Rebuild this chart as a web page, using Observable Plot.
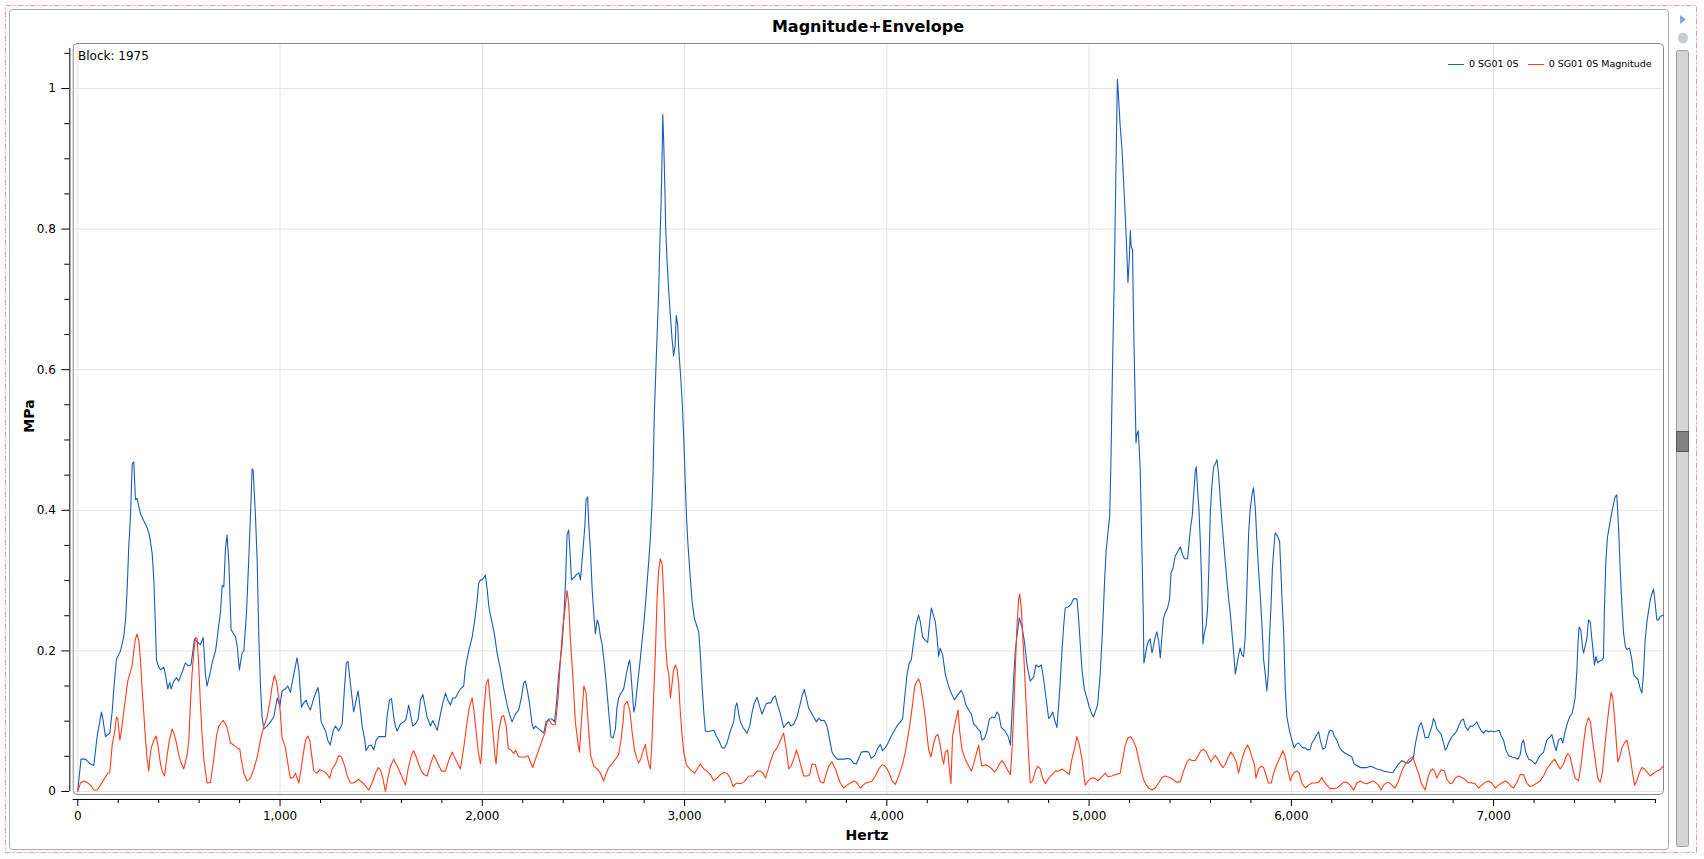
<!DOCTYPE html>
<html><head><meta charset="utf-8">
<script src="https://cdn.jsdelivr.net/npm/d3@7"></script>
<script src="https://cdn.jsdelivr.net/npm/@observablehq/plot@0.6"></script>
<style>
body{margin:0;background:#fff;}
#wrap{position:relative;width:1704px;height:859px;overflow:hidden;font-family:"DejaVu Sans",sans-serif;color:#000;}
#wrap > *{position:absolute;}
#deco{left:0;top:0;}
#chart{left:0;top:0;}
.lbl{white-space:nowrap;}
</style></head>
<body>
<div id="wrap">
<svg id="deco" width="1704" height="859">
  <rect x="5.5" y="5.5" width="1691" height="847" fill="none" stroke="#f29a9a" stroke-width="1" stroke-dasharray="6,2,2,2"/>
  <rect x="9.5" y="9.5" width="1659" height="840" rx="3" fill="#fff" stroke="#a8a8a8"/>
  <rect x="1676.5" y="50.5" width="12" height="796" rx="2" fill="#d4d4d4" stroke="#a0a0a0"/>
  <rect x="1676.5" y="431.5" width="12" height="20" fill="#828282" stroke="#5a5a5a"/>
  <path d="M1680,15 L1686,19.5 L1680,24 Z" fill="#7fa6e6"/>
  <ellipse cx="1683" cy="38" rx="5" ry="5.5" fill="#c5ccd4"/>
</svg>
<div id="chart"></div>
<div class="lbl" id="title" style="left:73px;width:1590px;top:17px;text-align:center;font-weight:bold;font-size:16px;">Magnitude+Envelope</div>
<div class="lbl" style="left:78px;top:49px;font-size:12px;">Block: 1975</div>
<div class="lbl" style="left:29px;top:416px;font-weight:bold;font-size:14px;transform:translate(-50%,-50%) rotate(-90deg);">MPa</div>
<div class="lbl" style="left:867px;top:835px;font-weight:bold;font-size:14px;transform:translate(-50%,-50%);">Hertz</div>
<div class="lbl" id="legend" style="left:1448px;top:58px;font-size:9.5px;line-height:12px;"></div>
</div>
<script>
// ---- data ----
const seriesNames = ["0 SG01 0S", "0 SG01 0S Magnitude"];
const seriesColors = ["#1a5db8", "#ff3c1e"];

const blueHz = [0,16,38,63,79,96,117,124,137,158,170,178,191,211,227,236,244,252,260,269,277,285,293,310,326,343,354,368,376,384,389,400,409,425,433,445,455,461,475,488,499,516,532,544,560,577,587,606,620,631,639,653,664,681,689,697,705,714,722,730,738,747,758,780,788,799,812,821,834,845,854,862,867,878,887,895,903,911,920,936,953,969,986,999,1010,1027,1038,1051,1068,1084,1093,1106,1117,1129,1137,1150,1167,1187,1192,1203,1213,1225,1236,1248,1262,
1274,1290,1307,1320,1328,1336,1348,1356,1364,1373,1386,1393,1406,1419,1425,1439,1452,1463,1475,1488,1505,1521,1529,1541,1551,1562,1570,1579,1595,1612,1623,1636,1645,1656,1669,1683,1694,1706,1716,1727,1744,1755,1768,1777,1793,1805,1818,1829,1842,1854,1867,1880,1892,1908,1917,1933,1950,1963,1974,1982,1991,1999,2007,2015,2024,2032,2040,2048,2062,2073,2090,2106,2123,2134,2147,2164,2180,2193,2205,2213,2225,2233,2246,2254,2263,2279,2292,2304,2315,2329,2345,2357,2365,2378,2394,2403,2411,2419,2427,2436,2441,2452,2464,2477,2485,2497,2507,2513,2521,2526,2535,2543,2551,2559,2568,2576,
2584,2592,2604,2613,2625,2636,2646,2658,2666,2674,2686,2699,2712,2724,2729,2735,2742,2749,2757,2765,2778,2790,2798,2806,2814,2823,2831,2839,2844,2847,2851,2856,2861,2867,2872,2877,2884,2889,2892,2897,2902,2907,2913,2922,2930,2938,2946,2953,2959,2966,2971,2979,2988,2996,3004,3009,3016,3029,3037,3048,3062,3070,3078,3086,3095,3103,3114,3128,3144,3157,3169,3185,3197,3210,3226,3243,3251,3259,3268,3276,3289,3309,3322,3334,3345,3358,3371,3383,3391,3404,3416,3427,3437,3449,3457,3474,3490,3503,3515,3526,3540,3556,3573,3581,3592,3602,3614,3625,3638,3652,3663,3675,3691,3704,3718,3729,3737,3754,3770,3787,3803,3820,3836,3849,3861,3874,
3894,3910,3923,3940,3956,3968,3979,3992,4006,4022,4034,4050,4067,4078,4088,4100,4111,4121,4133,4144,4157,4166,4177,4190,4202,4212,4220,4232,4240,4248,4256,4264,4276,4289,4302,4314,4325,4335,4347,4358,4368,4380,4391,4405,4418,4429,4441,4454,4462,4470,4484,4495,4507,4520,4533,4545,4553,4566,4582,4599,4611,4619,4627,4635,4643,4655,4668,4680,4693,4709,4726,4737,4751,4764,4775,4787,4800,4808,4820,4830,4841,4849,4858,4866,4874,4882,4899,4912,4924,4940,4948,4957,4965,4976,4989,5001,5014,5022,5034,5042,5055,5067,5077,5084,5093,5102,5108,5113,5118,5125,5130,5135,5140,5146,5154,5163,5171,5179,5187,5192,5199,
5204,5208,5215,5218,5222,5227,5232,5237,5243,5248,5253,5258,5263,5268,5271,5278,5286,5294,5302,5311,5319,5327,5335,5344,5352,5360,5368,5377,5388,5398,5405,5415,5426,5438,5451,5461,5471,5487,5497,5503,5510,5517,5525,5530,5536,5543,5550,5556,5563,5569,5579,5586,5592,5599,5607,5616,5624,5632,5640,5649,5657,5665,5673,5681,5690,5698,5706,5714,5723,5731,5739,5747,5756,5764,5772,5780,5789,5797,5807,5813,5822,5830,5838,5846,5855,5863,5871,5879,5886,5892,5899,5906,5912,5920,5932,5942,5948,5955,5962,5970,5978,5991,6003,6014,6024,6036,6047,6057,6069,6080,6093,6102,6113,6126,6135,6143,6156,6168,6176,6184,6192,6204,6212,6225,6239,6250,6267,6283,6299,6311,6324,6341,6357,6374,6390,6407,6423,6440,6456,6473,6489,6502,
6513,6530,6546,6560,6576,6593,6604,6612,6621,6632,6642,6654,6662,6678,6687,6695,6703,6711,6719,6731,6741,6752,6761,6769,6777,6794,6810,6818,6827,6840,6851,6860,6873,6884,6896,6909,6917,6925,6939,6950,6962,6975,6988,7000,7016,7028,7038,7049,7061,7074,7090,7107,7120,7131,7140,7148,7159,7173,7189,7206,7219,7230,7247,7263,7280,7288,7301,7309,7321,7333,7342,7354,7367,7379,7387,7395,7403,7412,7417,7423,7431,7440,7445,7453,7461,7469,7478,7486,7494,7499,7506,7515,7522,7535,7543,7548,7555,7563,7571,7581,7588,7595,7601,7609,7618,7626,7634,7642,7651,7659,7672,7684,7692,7700,7713,7725,7733,7741,7749,7758,7766,7774,7782,7791,7799,7807,7815,7823,7840];

const blueMPa = [0.002,0.046,0.046,0.039,0.037,0.079,0.113,0.103,0.078,0.083,0.113,0.146,0.188,0.200,0.220,0.244,0.288,0.348,0.388,0.466,0.469,0.415,0.417,0.395,0.385,0.375,0.365,0.338,0.301,0.234,0.187,0.177,0.173,0.177,0.167,0.146,0.155,0.146,0.157,0.162,0.157,0.170,0.183,0.179,0.180,0.217,0.214,0.209,0.219,0.167,0.150,0.167,0.183,0.200,0.217,0.237,0.254,0.293,0.291,0.345,0.365,0.325,0.230,0.220,0.207,0.173,0.197,0.200,0.254,0.328,0.395,0.459,0.457,0.395,0.328,0.220,0.153,0.106,0.089,0.093,0.099,0.106,0.133,0.121,0.143,0.146,0.150,0.141,0.167,0.190,0.173,0.120,0.126,0.130,0.123,0.116,0.133,0.148,0.140,0.099,0.093,0.086,0.073,0.066,0.086,
0.093,0.086,0.096,0.153,0.183,0.185,0.153,0.133,0.113,0.126,0.143,0.126,0.093,0.073,0.058,0.065,0.066,0.059,0.073,0.078,0.078,0.078,0.106,0.130,0.132,0.106,0.093,0.086,0.096,0.099,0.103,0.123,0.110,0.093,0.096,0.103,0.130,0.138,0.123,0.106,0.093,0.101,0.093,0.087,0.110,0.126,0.140,0.130,0.123,0.133,0.133,0.140,0.146,0.150,0.177,0.200,0.220,0.244,0.271,0.296,0.301,0.301,0.304,0.308,0.288,0.264,0.251,0.241,0.220,0.197,0.173,0.146,0.123,0.110,0.099,0.110,0.116,0.133,0.155,0.157,0.140,0.126,0.096,0.089,0.093,0.089,0.086,0.083,0.099,0.103,0.103,0.099,0.120,0.167,0.207,0.247,0.294,0.365,0.372,0.328,0.301,0.304,0.308,0.311,0.301,0.341,0.378,0.415,0.419,0.382,0.341,0.288,0.254,0.224,0.244,0.237,
0.220,0.210,0.180,0.153,0.113,0.078,0.076,0.089,0.120,0.133,0.140,0.146,0.167,0.183,0.187,0.167,0.140,0.113,0.123,0.146,0.180,0.214,0.237,0.264,0.294,0.328,0.362,0.409,0.449,0.489,0.543,0.583,0.624,0.671,0.711,0.771,0.839,0.906,0.963,0.923,0.866,0.798,0.758,0.711,0.677,0.644,0.620,0.634,0.677,0.664,0.630,0.597,0.556,0.503,0.435,0.395,0.355,0.301,0.271,0.247,0.234,0.227,0.194,0.153,0.113,0.086,0.085,0.086,0.087,0.079,0.073,0.062,0.062,0.069,0.086,0.099,0.120,0.126,0.110,0.099,0.091,0.083,0.093,0.113,0.126,0.134,0.121,0.110,0.116,0.125,0.126,0.126,0.133,0.136,0.126,0.110,0.091,0.096,0.099,0.093,0.096,0.106,0.126,0.136,0.145,0.133,0.118,0.113,0.106,0.099,0.104,0.101,0.101,0.093,0.073,0.056,0.052,0.046,0.046,0.046,0.047,0.046,0.040,0.039,0.047,0.056,
0.057,0.056,0.047,0.051,0.062,0.067,0.058,0.062,0.069,0.079,0.085,0.093,0.099,0.103,0.133,0.167,0.183,0.187,0.214,0.237,0.251,0.241,0.220,0.215,0.212,0.241,0.261,0.249,0.241,0.220,0.192,0.204,0.194,0.167,0.153,0.143,0.136,0.130,0.136,0.140,0.144,0.136,0.123,0.116,0.110,0.096,0.093,0.087,0.086,0.073,0.076,0.086,0.103,0.106,0.105,0.113,0.110,0.091,0.087,0.079,0.066,0.113,0.160,0.200,0.220,0.247,0.234,0.214,0.180,0.157,0.163,0.180,0.177,0.180,0.160,0.133,0.104,0.106,0.113,0.101,0.091,0.120,0.160,0.200,0.234,0.261,0.263,0.267,0.274,0.274,0.247,0.207,0.173,0.146,0.133,0.120,0.110,0.106,0.116,0.123,0.167,0.234,0.301,0.341,0.368,0.392,0.469,0.556,0.637,0.738,0.832,0.926,1.013,0.986,0.946,0.913,0.866,0.818,0.765,0.724,0.758,
0.798,0.775,0.771,0.704,0.637,0.570,0.496,0.509,0.513,0.489,0.456,0.388,0.321,0.251,0.183,0.194,0.207,0.214,0.217,0.197,0.207,0.220,0.227,0.214,0.190,0.220,0.247,0.254,0.261,0.274,0.311,0.318,0.335,0.341,0.348,0.338,0.331,0.331,0.362,0.378,0.392,0.422,0.456,0.462,0.432,0.402,0.355,0.301,0.210,0.224,0.237,0.261,0.315,0.395,0.435,0.462,0.466,0.472,0.452,0.415,0.382,0.355,0.328,0.301,0.274,0.254,0.227,0.200,0.167,0.180,0.194,0.204,0.194,0.192,0.220,0.288,0.368,0.402,0.425,0.432,0.402,0.355,0.315,0.281,0.234,0.187,0.167,0.143,0.167,0.220,0.261,0.315,0.341,0.368,0.363,0.356,0.315,0.267,0.227,0.146,0.106,0.086,0.073,0.062,0.067,0.069,0.065,0.062,0.062,0.059,0.060,0.069,0.074,0.081,0.085,0.073,0.060,0.062,0.073,0.083,0.087,0.086,0.079,0.073,0.062,0.058,0.054,0.052,0.049,0.039,0.037,0.034,0.034,0.034,0.036,0.034,0.032,0.031,0.029,0.028,0.027,0.027,
0.032,0.039,0.044,0.042,0.040,0.044,0.049,0.066,0.079,0.093,0.098,0.086,0.076,0.077,0.086,0.093,0.104,0.098,0.089,0.085,0.081,0.069,0.059,0.062,0.069,0.078,0.083,0.086,0.093,0.101,0.103,0.093,0.087,0.093,0.093,0.096,0.099,0.094,0.086,0.083,0.087,0.085,0.086,0.085,0.086,0.087,0.079,0.073,0.059,0.051,0.049,0.048,0.046,0.052,0.069,0.073,0.056,0.046,0.044,0.039,0.046,0.051,0.056,0.073,0.078,0.081,0.066,0.058,0.073,0.076,0.069,0.086,0.099,0.108,0.110,0.120,0.133,0.173,0.210,0.234,0.230,0.204,0.197,0.207,0.217,0.244,0.241,0.217,0.194,0.180,0.192,0.183,0.185,0.187,0.190,0.261,0.328,0.362,0.375,0.392,0.402,0.412,0.419,0.422,0.375,0.315,0.267,0.227,0.207,0.202,0.204,0.187,0.167,0.163,0.160,0.146,0.140,0.167,0.214,0.241,0.257,0.271,0.281,0.288,0.267,0.244,0.244,0.249,0.251];

const redHz = [0,13,30,46,63,79,96,112,129,148,158,170,183,191,198,208,214,227,239,247,260,269,277,285,293,302,310,318,326,335,343,351,356,363,376,387,396,409,417,429,442,453,467,475,488,499,513,524,541,549,557,565,574,582,590,598,606,615,623,639,656,672,686,697,705,719,730,738,755,771,788,801,808,821,837,854,870,887,903,920,936,949,961,972,982,994,1002,1010,1027,1035,1043,1051,1065,1076,1093,1104,1114,1126,1137,1147,1159,1167,1183,1196,1213,1229,1246,1257,
1274,1290,1304,1320,1332,1348,1364,1389,1414,1439,1455,1472,1485,1496,1508,1521,1533,1546,1562,1579,1595,1620,1633,1650,1661,1673,1694,1711,1727,1744,1760,1777,1798,1818,1834,1851,1867,1892,1908,1925,1936,1950,1958,1969,1979,1991,1996,2007,2019,2029,2040,2052,2062,2068,2081,2095,2106,2118,2128,2144,2156,2164,2180,2197,2213,2226,2238,2249,2263,2279,2296,2309,2320,2332,2345,2361,2375,2386,2398,2408,2419,2427,2436,2447,2460,2474,2480,2490,2502,2513,2523,2535,2551,2568,
2584,2600,2613,2625,2641,2658,2674,2686,2696,2702,2716,2729,2740,2752,2765,2773,2785,2795,2806,2814,2823,2831,2839,2847,2856,2864,2872,2880,2889,2897,2905,2913,2922,2930,2938,2946,2955,2963,2971,2979,2988,2996,3009,3020,3037,3050,3062,3078,3095,3111,3128,3144,3161,3177,3194,3210,3226,3240,3256,3276,3296,3317,3339,3358,3375,3388,3400,3411,3424,3441,3457,3474,3490,3503,3515,3526,3540,3553,3564,3576,3589,3606,3619,3630,3647,3658,3671,3688,3701,3713,3729,3746,3757,3770,3787,3803,3820,3840,3853,3869,
3894,3910,3927,3943,3960,3976,3989,4001,4012,4026,4042,4055,4067,4078,4091,4105,4116,4128,4138,4149,4157,4166,4177,4190,4199,4207,4218,4232,4243,4253,4264,4273,4281,4289,4301,4309,4317,4325,4339,4352,4360,4372,4388,4405,4418,4429,4441,4454,4462,4470,4487,4503,4520,4533,4545,4556,4569,4582,4594,4611,4619,4627,4635,4643,4652,4657,4665,4676,4685,4693,4701,4709,4721,4734,4746,4759,4770,4784,4800,4817,4833,4849,4866,4882,4902,4915,4929,4940,4952,4965,4973,4981,4995,5011,5027,5044,5060,5080,5093,5113,5130,5154,5166,5179,5192,
5204,5217,5233,5245,5256,5269,5283,5294,5311,5327,5344,5360,5377,5398,5415,5434,5451,5467,5484,5497,5508,5525,5541,5553,5566,5579,5591,5602,5612,5624,5635,5649,5662,5673,5685,5701,5714,5728,5739,5747,5759,5772,5784,5794,5805,5817,5825,5838,5851,5863,5876,5887,5901,5912,5929,5945,5958,5970,5981,5995,6003,6014,6028,6039,6052,6069,6085,6102,6118,6135,6151,6159,6176,6192,6209,6225,6242,6258,6275,6291,6308,6324,6341,6357,6374,6390,6403,6415,6431,6443,6456,6473,6486,6497,
6513,6530,6546,6563,6583,6601,6612,6629,6642,6662,6675,6687,6698,6708,6719,6731,6741,6757,6769,6785,6797,6810,6827,6843,6860,6873,6893,6909,6925,6942,6958,6975,6991,7008,7024,7041,7057,7074,7087,7099,7115,7131,7148,7164,7181,7197,7214,7230,7247,7263,7280,7301,7313,7329,7346,7357,7367,7379,7390,7403,7420,7433,7445,7456,7469,7479,7489,7502,7515,7527,7539,7548,7560,7571,7581,7589,7598,7606,7614,7623,7634,7647,7659,7667,7677,7687,7697,7708,7720,7733,7746,7758,7774,7791,7807,7823,7840];

const redMPa = [0,0.012,0.015,0.013,0.009,0.002,0.002,0.009,0.017,0.026,0.027,0.066,0.086,0.106,0.103,0.073,0.083,0.113,0.140,0.157,0.170,0.180,0.200,0.217,0.224,0.214,0.187,0.146,0.113,0.073,0.046,0.029,0.046,0.062,0.073,0.079,0.066,0.039,0.029,0.022,0.052,0.073,0.089,0.083,0.069,0.052,0.039,0.032,0.052,0.073,0.126,0.167,0.200,0.219,0.217,0.180,0.126,0.079,0.046,0.012,0.013,0.046,0.079,0.093,0.096,0.101,0.096,0.091,0.069,0.066,0.062,0.060,0.046,0.026,0.015,0.019,0.032,0.049,0.073,0.093,0.106,0.126,0.150,0.165,0.157,0.133,0.110,0.076,0.062,0.046,0.032,0.019,0.020,0.026,0.012,0.032,0.052,0.073,0.079,0.073,0.046,0.029,0.026,0.031,0.029,0.026,0.019,0.032,
0.039,0.051,0.049,0.036,0.022,0.012,0.012,0.017,0.011,0.002,0.012,0.026,0.034,0.031,0.019,0,0.019,0.036,0.046,0.036,0.026,0.009,0.032,0.052,0.058,0.049,0.032,0.024,0.022,0.039,0.052,0.042,0.029,0.029,0.044,0.056,0.046,0.032,0.062,0.099,0.120,0.133,0.116,0.086,0.059,0.039,0.052,0.113,0.153,0.160,0.126,0.086,0.052,0.039,0.086,0.106,0.108,0.093,0.062,0.058,0.054,0.059,0.049,0.049,0.049,0.051,0.042,0.034,0.046,0.059,0.073,0.083,0.099,0.101,0.095,0.095,0.133,0.187,0.234,0.257,0.286,0.267,0.214,0.167,0.099,0.066,0.056,0.099,0.150,0.140,0.099,0.052,0.036,0.032,
0.026,0.015,0.026,0.034,0.039,0.046,0.052,0.073,0.099,0.123,0.128,0.116,0.086,0.059,0.046,0.041,0.047,0.058,0.067,0.052,0.039,0.032,0.073,0.133,0.200,0.274,0.315,0.331,0.323,0.281,0.214,0.180,0.167,0.133,0.153,0.173,0.180,0.173,0.153,0.113,0.079,0.056,0.038,0.034,0.029,0.026,0.032,0.039,0.032,0.029,0.024,0.015,0.019,0.024,0.027,0.026,0.019,0.007,0.012,0.011,0.014,0.022,0.022,0.029,0.029,0.026,0.019,0.029,0.042,0.056,0.062,0.073,0.083,0.059,0.032,0.036,0.046,0.059,0.049,0.036,0.022,0.022,0.024,0.039,0.038,0.026,0.014,0.012,0.026,0.036,0.042,0.032,0.022,0.012,0.005,0.009,0.012,0.015,0.012,0.005,
0.012,0.013,0.015,0.022,0.032,0.038,0.037,0.032,0.026,0.015,0.010,0.019,0.029,0.039,0.056,0.079,0.099,0.126,0.150,0.157,0.160,0.153,0.133,0.106,0.079,0.059,0.049,0.069,0.079,0.081,0.066,0.049,0.039,0.056,0.059,0.032,0.011,0.079,0.099,0.116,0.086,0.059,0.046,0.036,0.029,0.039,0.052,0.066,0.049,0.036,0.038,0.036,0.032,0.028,0.032,0.039,0.044,0.039,0.032,0.024,0.059,0.110,0.173,0.234,0.274,0.281,0.261,0.200,0.146,0.099,0.052,0.012,0.015,0.029,0.036,0.032,0.019,0.011,0.019,0.024,0.029,0.029,0.032,0.029,0.024,0.046,0.062,0.078,0.066,0.046,0.026,0.009,0.015,0.019,0.019,0.015,0.020,0.026,0.021,0.022,0.024,0.026,0.046,0.066,0.076,
0.078,0.073,0.062,0.046,0.032,0.017,0.009,0.005,0.002,0.005,0.012,0.020,0.022,0.020,0.017,0.013,0.014,0.029,0.042,0.046,0.044,0.044,0.052,0.058,0.060,0.056,0.049,0.042,0.047,0.051,0.047,0.039,0.034,0.038,0.047,0.056,0.051,0.042,0.026,0.036,0.049,0.060,0.066,0.060,0.049,0.039,0.019,0.032,0.036,0.034,0.022,0.012,0.012,0.026,0.039,0.049,0.058,0.049,0.032,0.015,0.022,0.027,0.029,0.026,0.012,0.005,0.009,0.012,0.012,0.013,0.020,0.015,0.009,0.004,0.004,0.005,0.009,0.013,0.013,0.009,0.002,0.012,0.015,0.012,0.011,0.013,0.015,0.013,0.009,0.002,0.009,0.013,0.012,0.009,
0.005,0.015,0.029,0.039,0.046,0.049,0.039,0.026,0.012,0.002,0.019,0.029,0.032,0.029,0.019,0.026,0.031,0.029,0.017,0.011,0.012,0.019,0.022,0.020,0.017,0.013,0.012,0.011,0.005,0.009,0.013,0.015,0.012,0.005,0.009,0.012,0.015,0.012,0.007,0.005,0.013,0.024,0.024,0.012,0.007,0.009,0.012,0.015,0.022,0.032,0.039,0.046,0.040,0.032,0.039,0.049,0.054,0.049,0.034,0.019,0.015,0.039,0.069,0.093,0.105,0.099,0.073,0.046,0.019,0.013,0.029,0.059,0.093,0.120,0.141,0.133,0.106,0.073,0.042,0.049,0.062,0.069,0.073,0.062,0.046,0.026,0.009,0.015,0.026,0.034,0.032,0.028,0.022,0.026,0.029,0.031,0.036];

// axis ticks
const xMajor = [0,1000,2000,3000,4000,5000,6000,7000];
const xMinor = [200,400,600,800,1200,1400,1600,1800,2200,2400,2600,2800,3200,3400,3600,3800,4200,4400,4600,4800,5200,5400,5600,5800,6200,6400,6600,6800,7200,7400,7600,7800];
const yMajor = [0,0.2,0.4,0.6,0.8,1];
const yMajorLabels = ["0","0.2","0.4","0.6","0.8","1"];
const yMinor = [0.05,0.1,0.15,0.25,0.3,0.35,0.45,0.5,0.55,0.65,0.7,0.75,0.85,0.9,0.95,1.05];

const blue = blueHz.map((h,i)=>({hz:h, v:blueMPa[i]}));
const red = redHz.map((h,i)=>({hz:h, v:redMPa[i]}));

const xDom = [-22.7, 7840];
const yDom = [-0.0043, 1.064];

const chart = Plot.plot({
  width: 1704, height: 859,
  marginLeft: 72.7, marginRight: 41, marginTop: 43, marginBottom: 65,
  style: {fontFamily: "DejaVu Sans", fontSize: "12px", color: "#000", background: "transparent", overflow: "visible"},
  x: {domain: xDom, label: null},
  y: {domain: yDom, label: null},
  marks: [
    Plot.gridX(xMajor, {stroke: "#e3e3e3", strokeOpacity: 1}),
    Plot.gridY(yMajor, {stroke: "#e3e3e3", strokeOpacity: 1}),
    Plot.frame({rx: 4, stroke: "#8a8a8a"}),
    Plot.line(blue, {x: "hz", y: "v", stroke: seriesColors[0], strokeWidth: 1.1}),
    Plot.line(red, {x: "hz", y: "v", stroke: seriesColors[1], strokeWidth: 1.1}),
    // x axis
    Plot.ruleY([yDom[0]], {x1: xDom[0], x2: 7800, dy: 5, stroke: "#000"}),
    Plot.axisX(xMajor, {tickSize: 7, dy: 5, tickPadding: 5, tickFormat: d3.format(","), fontSize: 12}),
    Plot.axisX(xMinor, {tickSize: 4, dy: 5, tickFormat: () => ""}),
    // y axis
    Plot.ruleX([xDom[0]], {y1: 0, y2: 1.057, dx: -3.4, stroke: "#000"}),
    Plot.axisY(yMajor, {tickSize: 8, dx: -3.4, tickPadding: 6, tickFormat: (d,i) => yMajorLabels[i], fontSize: 12}),
    Plot.axisY(yMinor, {tickSize: 5, dx: -3.4, tickFormat: () => ""})
  ]
});
document.getElementById("chart").appendChild(chart);

// legend
const leg = document.getElementById("legend");
leg.innerHTML = seriesNames.map((n,i)=>
  `<span style="display:inline-block;width:16px;height:1px;background:${seriesColors[i]};vertical-align:middle;margin-right:5px;"></span><span style="margin-right:9px;">${n}</span>`
).join("");
</script>
</body></html>
